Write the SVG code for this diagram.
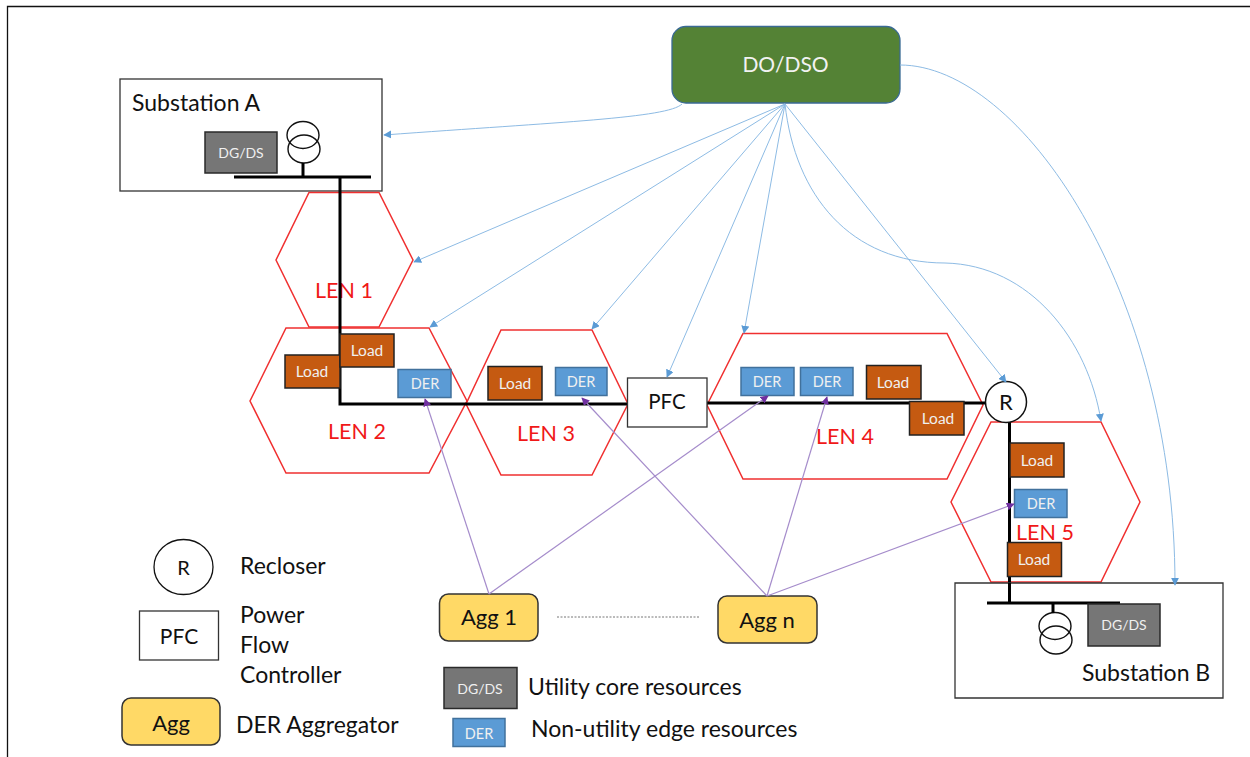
<svg xmlns="http://www.w3.org/2000/svg" width="1250" height="757" viewBox="0 0 1250 757">
<defs>
<style>
text{font-family:"Lato","Open Sans","Liberation Sans",sans-serif;fill:#111}
.hex{fill:none;stroke:#f03030;stroke-width:1.5}
.len{fill:#f01818;font-size:21.5px;text-anchor:middle}
.load rect{fill:#c55a11;stroke:#222;stroke-width:1.5}
.der rect{fill:#5b9bd5;stroke:#41719c;stroke-width:1.5}
.dg rect{fill:#767676;stroke:#2a2a2a;stroke-width:1.5}
.load text,.der text,.dg text{fill:#f0f0f0;text-anchor:middle}
.load text{font-size:15.5px}
.der text{font-size:14.5px}
.dg text{font-size:14px}
.agg rect{fill:#ffd966;stroke:#333;stroke-width:1.5}
.agg text{font-size:22px;text-anchor:middle}
.box{fill:#fff;stroke:#333;stroke-width:1.3}
.wire{fill:none;stroke:#000;stroke-width:3}
.thin{fill:none;stroke:#111;stroke-width:1.4}
.blue{fill:none;stroke:#8dbbe4;stroke-width:1;marker-end:url(#ab)}
.pur{fill:none;stroke:#a58ccb;stroke-width:1.2;marker-end:url(#ap)}
.lbl{font-size:23px}
</style>
<marker id="ab" viewBox="0 0 10 10" refX="9" refY="5" markerWidth="8" markerHeight="8" markerUnits="userSpaceOnUse" orient="auto"><path d="M0,0L10,5L0,10z" fill="#5b9bd5"/></marker>
<marker id="ap" viewBox="0 0 10 10" refX="9" refY="5" markerWidth="8" markerHeight="8" markerUnits="userSpaceOnUse" orient="auto"><path d="M0,0L10,5L0,10z" fill="#7030a0"/></marker>
</defs>
<rect width="1250" height="757" fill="#fff"/>
<path d="M7.500,757V6.500H1250" fill="none" stroke="#111" stroke-width="1.3"/>

<g id="substation-a">
<rect class="box" x="120" y="79" width="262" height="112"/>
<text class="lbl" x="132" y="111">Substation A</text>
<ellipse class="thin" cx="303" cy="135" rx="16" ry="13.500"/>
<ellipse class="thin" cx="304" cy="149" rx="16" ry="14"/>
<path d="M303,163V177" class="wire"/>
<path d="M234,177H371" class="wire"/>
</g>
<g id="len1"><polygon class="hex" points="309,192.500 379,192.500 413,260 379,327 309,327 276,260"/><text class="len" x="344" y="298">LEN 1</text></g>
<g id="len2"><polygon class="hex" points="286,328 429,328 467,401 429,473 286,473 250,401"/><text class="len" x="357" y="439">LEN 2</text></g>
<g id="len3"><polygon class="hex" points="501,330 592,330 628,404 592,475 501,475 466,404"/><text class="len" x="546" y="441">LEN 3</text></g>
<g id="len4"><polygon class="hex" points="743,333.500 947,333.500 983,405 947,479 743,479 707,405"/><text class="len" x="845" y="444">LEN 4</text></g>
<g id="len5"><polygon class="hex" points="991,422 1101,422 1140,502 1101,582 991,582 951,502"/></g>

<g id="wires">
<path class="wire" d="M340,177V404H627"/>
<path class="wire" d="M707,403H986"/>
<path class="wire" d="M1009.500,422V603"/>
</g>

<g id="substation-b">
<path class="box" d="M955,583H1223V698H955Z"/>
<text class="lbl" x="1082" y="681">Substation B</text>
<ellipse class="thin" cx="1055" cy="626" rx="16" ry="13.500"/>
<ellipse class="thin" cx="1056" cy="640" rx="16" ry="14"/>
<path class="wire" d="M1053,603V613"/>
<path class="wire" d="M987,603H1120"/>
<path class="wire" d="M1009.500,583V603"/>
</g>
<g id="dg-a" class="dg"><rect x="205" y="132" width="72" height="41"/><text x="241" y="158">DG/DS</text></g>
<g id="dg-b" class="dg"><rect x="1088" y="604" width="72" height="42"/><text x="1124" y="630">DG/DS</text></g>

<g id="load-2a" class="load"><rect x="285" y="355" width="55" height="33"/><text x="312" y="377">Load</text></g>
<g id="load-2b" class="load"><rect x="340" y="334" width="54" height="33"/><text x="367" y="356">Load</text></g>
<g id="der-2" class="der"><rect x="398" y="369.500" width="53" height="28"/><text x="425" y="389">DER</text></g>
<g id="load-3" class="load"><rect x="488" y="366.500" width="54" height="33.500"/><text x="515" y="389">Load</text></g>
<g id="der-3" class="der"><rect x="555.500" y="367.500" width="51.500" height="28"/><text x="581" y="387">DER</text></g>
<g id="pfc"><rect class="box" x="627.500" y="378" width="79.500" height="49"/><text x="667" y="409" font-size="20.500" text-anchor="middle">PFC</text></g>
<g id="der-4a" class="der"><rect x="741" y="367.500" width="53" height="28"/><text x="767" y="387">DER</text></g>
<g id="der-4b" class="der"><rect x="800.500" y="367.500" width="52.500" height="28"/><text x="827" y="387">DER</text></g>
<g id="load-4a" class="load"><rect x="866.500" y="365.500" width="54.500" height="33.500"/><text x="893" y="388">Load</text></g>
<g id="load-4b" class="load"><rect x="909.500" y="401.500" width="54.500" height="33.500"/><text x="938" y="424">Load</text></g>
<g id="recloser"><circle cx="1006" cy="402" r="20.500" fill="#fff" stroke="#111" stroke-width="1.500"/><text x="1006" y="410" font-size="22" text-anchor="middle">R</text></g>
<g id="load-5a" class="load"><rect x="1010" y="443" width="54" height="34"/><text x="1037" y="466">Load</text></g>
<g id="der-5" class="der"><rect x="1014.500" y="489.500" width="52.500" height="28"/><text x="1041" y="509">DER</text></g>
<g id="load-5b" class="load"><rect x="1007.500" y="542.500" width="54" height="34"/><text x="1034" y="565">Load</text></g>
<text class="len" x="1045" y="540">LEN 5</text>

<g id="dso"><rect x="672" y="26.500" width="228" height="76.500" rx="14" fill="#548235" stroke="#3a6a94" stroke-width="1.300"/><text x="785.500" y="72" font-size="21" text-anchor="middle" style="fill:#f2f2f2">DO/DSO</text></g>
<g id="agg-1" class="agg"><rect x="439.500" y="594" width="98.500" height="47" rx="9"/><text x="489" y="625">Agg 1</text></g>
<g id="agg-n" class="agg"><rect x="718" y="596" width="99" height="47" rx="9"/><text x="767" y="628">Agg n</text></g>

<g id="connectors">
<path class="blue" d="M682,104C668,118 560,122 384,135"/>
<path class="blue" d="M785,104L414,262"/>
<path class="blue" d="M785,104L430,327"/>
<path class="blue" d="M785,104L592,329"/>
<path class="blue" d="M785,104L667,377"/>
<path class="blue" d="M785,104L744,333"/>
<path class="blue" d="M785,104L1006,382"/>
<path class="blue" d="M785,104C795,195 850,263 945,263C1030,265 1088,340 1101,421"/>
<path class="blue" d="M900,65C1020,65 1175,290 1175,585"/>
<path class="pur" d="M489,594L425,399"/>
<path class="pur" d="M489,594L768,396"/>
<path class="pur" d="M767,596L582,398"/>
<path class="pur" d="M767,596L827,397"/>
<path class="pur" d="M767,596L1014,504"/>
<path d="M557,617H700" fill="none" stroke="#777" stroke-width="1" stroke-dasharray="2 1.500"/>
</g>

<g id="legend">
<ellipse cx="183.500" cy="567" rx="29.500" ry="27.500" fill="#fff" stroke="#111" stroke-width="1.300"/>
<text x="183.500" y="575" font-size="20" text-anchor="middle">R</text>
<text class="lbl" x="240" y="574">Recloser</text>
<rect class="box" x="139.500" y="611" width="79" height="49"/>
<text x="179" y="644" font-size="21" text-anchor="middle">PFC</text>
<text class="lbl" x="240" y="623">Power</text>
<text class="lbl" x="240" y="653">Flow</text>
<text class="lbl" x="240" y="683">Controller</text>
<g class="agg"><rect x="122" y="698" width="98" height="47" rx="9"/><text x="171" y="731">Agg</text></g>
<text class="lbl" x="236" y="733">DER Aggregator</text>
<g class="dg"><rect x="444" y="667.500" width="73" height="41"/><text x="480" y="694">DG/DS</text></g>
<text class="lbl" x="528" y="695">Utility core resources</text>
<g class="der"><rect x="453" y="718.500" width="52" height="28"/><text x="479" y="739">DER</text></g>
<text class="lbl" x="531" y="737">Non-utility edge resources</text>
</g>
</svg>
